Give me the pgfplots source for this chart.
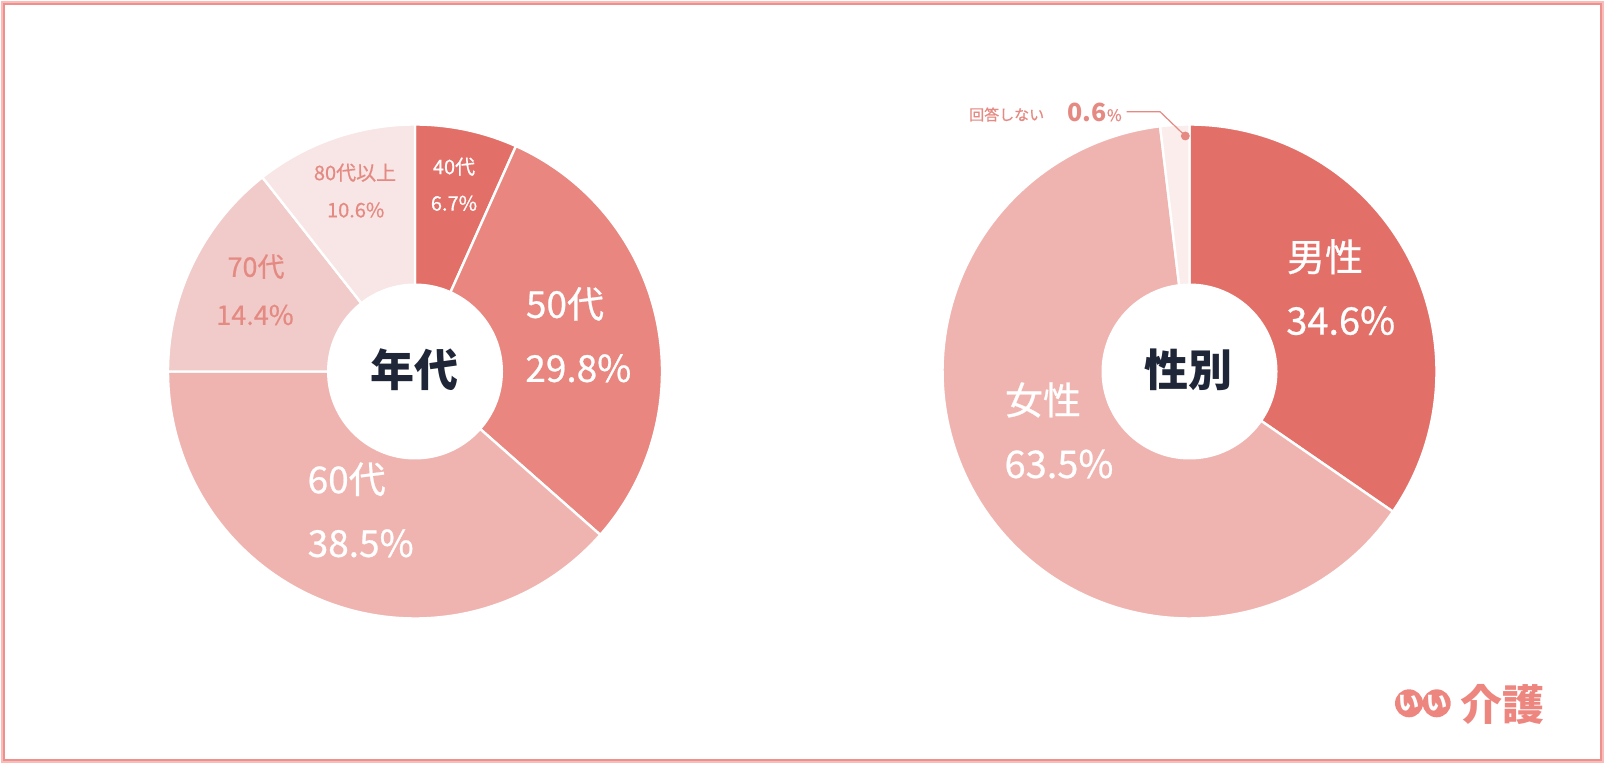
\documentclass[border=0pt]{standalone}
\usepackage{pgfplots}
\pgfplotsset{compat=1.18}
\usepackage{fontspec}
\setmainfont{Noto Sans CJK JP}
\newfontfamily\lab{Noto Sans CJK JP}[FakeBold=0.6]
\definecolor{cA}{HTML}{E37068}
\definecolor{cB}{HTML}{E8867F}
\definecolor{cC}{HTML}{F0B4B0}
\definecolor{cD}{HTML}{F0CBC9}
\definecolor{cE}{HTML}{F7E6E5}
\definecolor{cF}{HTML}{FAEDEC}
\definecolor{salmon}{HTML}{E58A83}
\definecolor{navy}{HTML}{1E2638}
\definecolor{bdark}{HTML}{EE918C}
\definecolor{blight}{HTML}{F8BDBA}
\definecolor{logo}{HTML}{EE8680}
% sector: cx, cy, start (cumulative %), value (%), colour
\newcommand{\sector}[5]{%
  \addplot[fill=#5, draw=white, line width=1.2pt, line join=round, domain=#3:#3+#4, samples=120]
    ({#1+247*cos(90-3.6*x)}, {#2+247*sin(90-3.6*x)}) -- (#1,#2) -- cycle;
}
\newcommand{\fs}[1]{\fontsize{#1}{#1}\selectfont}
\begin{document}
\begin{tikzpicture}
\useasboundingbox (0,0) rectangle (805pt,383pt);
\begin{axis}[at={(0,0)}, anchor=south west, scale only axis,
  width=805pt, height=383pt, xmin=0, xmax=1610, ymin=0, ymax=766,
  hide axis, clip=false, no markers]
% frame
\draw[blight, line width=1.2pt] (2,764) rectangle (1602.5,4);
\draw[bdark, line width=1pt] (4,762) rectangle (1600.5,6);
% ---- 年代 ----
\sector{415}{394.5}{0}{6.7}{cA}
\sector{415}{394.5}{6.7}{29.8}{cB}
\sector{415}{394.5}{36.5}{38.5}{cC}
\sector{415}{394.5}{75.0}{14.4}{cD}
\sector{415}{394.5}{89.4}{10.6}{cE}
\fill[white] (415,394.5) circle[radius=88];
\node[text=navy, font=\fs{22}\bfseries] at (414.5,396) {年代};
\node[text=white, font=\lab\fs{10}] at (454,599.3) {40代};
\node[text=white, font=\lab\fs{10}] at (454,562.7) {6.7\%};
\node[text=salmon, font=\lab\fs{10}] at (355,593.3) {80代以上};
\node[text=salmon, font=\lab\fs{10}] at (355.7,556) {10.6\%};
\node[text=salmon, font=\lab\fs{13.5}] at (256,499.3) {70代};
\node[text=salmon, font=\lab\fs{13.5}] at (255,451) {14.4\%};
\node[text=white, font=\lab\fs{18.5}] at (565,462) {50代};
\node[text=white, font=\lab\fs{18.5}] at (578.3,397.7) {29.8\%};
\node[text=white, font=\lab\fs{18.5}] at (346.7,286.7) {60代};
\node[text=white, font=\lab\fs{18.5}] at (360.7,222.7) {38.5\%};
% ---- 性別 ----
\sector{1189.5}{394.5}{0}{34.6}{cA}
\sector{1189.5}{394.5}{34.6}{63.5}{cC}
\sector{1189.5}{394.5}{98.1}{1.9}{cF}
\fill[white] (1189.5,394.5) circle[radius=88];
\node[text=navy, font=\fs{22}\bfseries] at (1188.5,396) {性別};
\node[text=white, font=\lab\fs{19}] at (1325,509.3) {男性};
\node[text=white, font=\lab\fs{19}] at (1340.7,445.3) {34.6\%};
\node[text=white, font=\lab\fs{19}] at (1043,366) {女性};
\node[text=white, font=\lab\fs{19}] at (1059,302) {63.5\%};
\node[text=salmon, font=\lab\fs{7.5}] at (1006.7,651.5) {回答しない};
\node[text=salmon] at (1094.7,654) {{\fs{12.5}\bfseries 0.6}{\lab\fs{8}\%}};
\addplot[salmon, line width=0.6pt] coordinates {(1126.7,654.3) (1160,654.3) (1185.3,630)};
\addplot[only marks, mark=*, mark size=2pt, salmon] coordinates {(1185.3,630)};
% ---- logo ----
\fill[logo] (1409,62.7) circle[radius=14];
\fill[logo] (1436.7,62.7) circle[radius=14];
\node[text=white, font=\fs{10.5}\bfseries] at (1409,62.7) {い};
\node[text=white, font=\fs{10.5}\bfseries] at (1436.7,62.7) {い};
\node[text=logo, font=\fs{21}\bfseries] at (1502,61.5) {介護};
\end{axis}
\end{tikzpicture}
\end{document}
